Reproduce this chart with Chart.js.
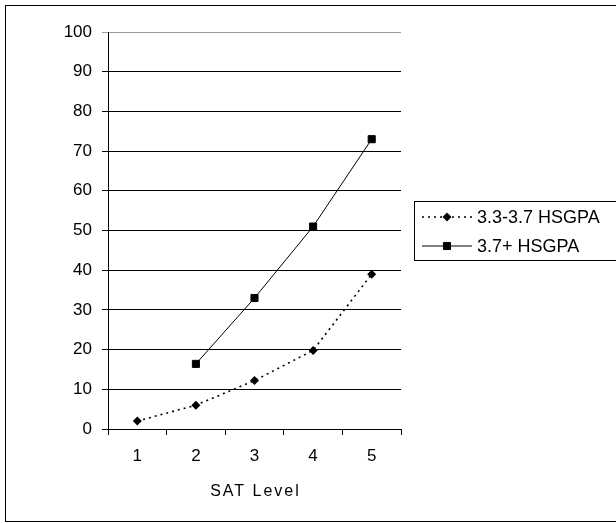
<!DOCTYPE html>
<html>
<head>
<meta charset="utf-8">
<script src="https://cdn.jsdelivr.net/npm/chart.js@4"></script>
<style>
  body { margin: 0; background: #fff; }
  canvas { display: block; }
</style>
</head>
<body>
<canvas id="chart" width="616" height="523"></canvas>
<script>
const satLevels = ['1', '2', '3', '4', '5']
const midGpa = [2, 6, 12.2, 19.8, 39]
const highGpa = [null, 16.4, 33, 51, 73]
const seriesNames = ['3.3-3.7 HSGPA', '3.7+ HSGPA']
const xTitle = 'SAT Level'

const FONT = '"Liberation Sans", Arial, sans-serif'

//outer frame, x axis title and the boxed legend on the right
const extras = {
  id: 'extras',
  beforeDraw(chart) {
    const ctx = chart.ctx
    ctx.save()
    ctx.strokeStyle = '#000'
    ctx.lineWidth = 1
    ctx.strokeRect(5.5, 5.5, 700, 516)
    ctx.restore()
  },
  afterDraw(chart) {
    const ctx = chart.ctx
    const area = chart.chartArea
    ctx.save()
    ctx.fillStyle = '#000'
    ctx.font = '16px ' + FONT
    ctx.letterSpacing = '2px'
    ctx.textAlign = 'center'
    ctx.textBaseline = 'middle'
    ctx.fillText(xTitle, (area.left + area.right) / 2 + 1, 492)
    ctx.letterSpacing = '0px'

    // legend box
    ctx.strokeStyle = '#000'
    ctx.lineWidth = 1
    ctx.strokeRect(414.5, 201.5, 300, 59)
    ctx.font = '18px ' + FONT
    ctx.textAlign = 'left'
    chart.data.datasets.forEach((ds, i) => {
      const y = 217 + i * 29
      ctx.save()
      ctx.strokeStyle = ds.borderColor
      ctx.lineWidth = ds.borderWidth
      ctx.setLineDash(ds.borderDash || [])
      ctx.beginPath()
      ctx.moveTo(422, y)
      ctx.lineTo(472, y)
      ctx.stroke()
      ctx.restore()
      ctx.fillStyle = ds.pointBackgroundColor
      ctx.strokeStyle = ds.pointBorderColor
      Chart.helpers.drawPoint(ctx, {
        pointStyle: ds.pointStyle,
        radius: ds.pointRadius,
        rotation: 0,
        borderWidth: ds.pointBorderWidth
      }, 447, y)
      ctx.fillStyle = '#000'
      ctx.fillText(ds.label, 477, y + 1)
    })
    ctx.restore()
  }
}

new Chart(document.getElementById('chart'), {
  type: 'line',
  data: {
    labels: satLevels,
    datasets: [{
      label: seriesNames[0],
      data: midGpa,
      borderColor: '#000',
      borderWidth: 1.6,
      borderDash: [2, 4],
      pointStyle: 'rectRot',
      pointRadius: 4.5,
      pointBorderWidth: 0,
      pointBackgroundColor: '#000',
      pointBorderColor: '#000',
      tension: 0
    }, {
      label: seriesNames[1],
      data: highGpa,
      borderColor: '#000',
      borderWidth: 1,
      pointStyle: 'rect',
      pointRadius: 5,
      pointBorderWidth: 1,
      pointBackgroundColor: '#000',
      pointBorderColor: '#000',
      tension: 0
    }]
  },
  options: {
    responsive: false,
    animation: false,
    layout: {
      padding: { top: 32, right: 215, left: 0, bottom: 0 }
    },
    plugins: {
      legend: { display: false },
      tooltip: { enabled: false }
    },
    scales: {
      x: {
        offset: true,
        afterFit: (scale) => { scale.height = 94 },
        grid: {
          offset: true,
          drawOnChartArea: false,
          drawTicks: true,
          tickLength: 6,
          color: '#000'
        },
        border: { display: true, color: '#000' },
        ticks: {
          padding: 11,
          color: '#000',
          font: { family: FONT, size: 17 }
        }
      },
      y: {
        min: 0,
        max: 100,
        afterFit: (scale) => { scale.width = 108 },
        grid: {
          color: (c) => c.tick && c.tick.value === 100 ? '#9a9a9a' : '#000',
          tickLength: 6
        },
        border: { display: true, color: '#000' },
        ticks: {
          stepSize: 10,
          padding: 10,
          color: '#000',
          font: { family: FONT, size: 17 }
        }
      }
    }
  },
  plugins: [extras]
})
</script>
</body>
</html>
